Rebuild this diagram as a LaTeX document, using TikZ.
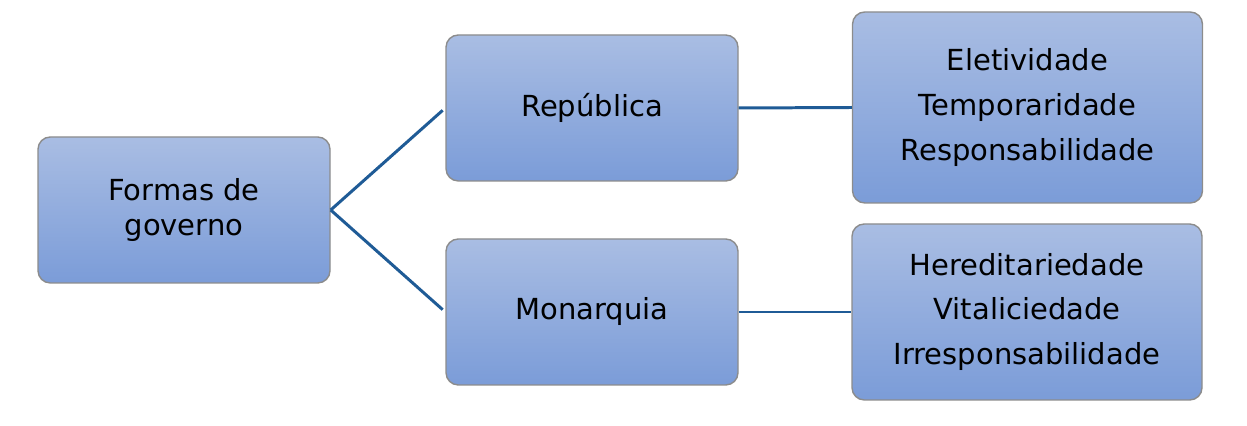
\documentclass[tikz,border=0pt]{standalone}
\usepackage{fontspec}
\setmainfont{DejaVu Sans}
\usepackage{tikz}

\definecolor{boxtop}{HTML}{A9BDE3}
\definecolor{boxbot}{HTML}{7B9CD8}
\definecolor{boxedge}{HTML}{8C8C8C}
\definecolor{linkblue}{HTML}{1F5B96}

\begin{document}
\begin{tikzpicture}[
        caixa/.style={draw=boxedge, line width=0.8pt, rounded corners=7pt,
            top color=boxtop, bottom color=boxbot, align=center,
            font=\fontsize{16.5}{20}\selectfont},
        lista/.style={caixa, font=\fontsize{16.5}{25.5}\selectfont},
        ligacao/.style={draw=linkblue, line width=1.7pt}
    ]
        \useasboundingbox (0,0) rectangle (24.94,8.52);

        \node[caixa, minimum width=5.84cm, minimum height=2.92cm] (formas) at (3.68,4.32) {Formas de\\governo};
        \node[caixa, minimum width=5.84cm, minimum height=2.92cm] (rep) at (11.84,6.36) {República};
        \node[caixa, minimum width=5.84cm, minimum height=2.92cm] (mon) at (11.84,2.28) {Monarquia};
        \node[lista, minimum width=7cm, minimum height=3.82cm] (repcar) at (20.55,6.37) {Eletividade\\Temporaridade\\Responsabilidade};
        \node[lista, minimum width=7cm, minimum height=3.52cm] (moncar) at (20.54,2.28) {Hereditariedade\\Vitaliciedade\\Irresponsabilidade};

        \draw[ligacao, shorten >=2pt] (formas.east) -- (rep.west);
        \draw[ligacao, shorten >=2pt] (formas.east) -- (mon.west);
        \draw[ligacao] (rep.east) -- (repcar.west);
        \draw[ligacao] (mon.east) -- (moncar.west);
\end{tikzpicture}
\end{document}
